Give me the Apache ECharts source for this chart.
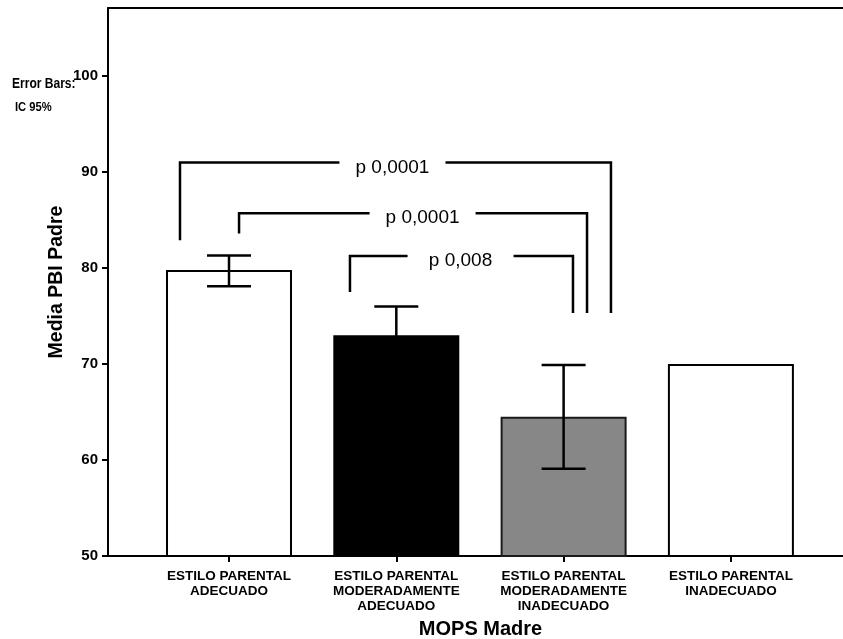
<!DOCTYPE html>
<html>
<head>
<meta charset="utf-8">
<script src="https://cdn.jsdelivr.net/npm/echarts@6/dist/echarts.min.js"></script>
<style>
html,body{margin:0;padding:0;background:#fff;}
#chart{width:843px;height:639px;}
</style>
</head>
<body>
<div id="chart"></div>
<script>
// ---- data ----
const categories = [
  'ESTILO PARENTAL\nADECUADO',
  'ESTILO PARENTAL\nMODERADAMENTE\nADECUADO',
  'ESTILO PARENTAL\nMODERADAMENTE\nINADECUADO',
  'ESTILO PARENTAL\nINADECUADO'
];
const means  = [79.8, 73.0, 64.5, 70.0];
const ciLow  = [78.1, 70.0, 59.1, null];
const ciHigh = [81.3, 76.0, 69.9, null];
const yTicks = [50, 60, 70, 80, 90, 100];

// significance brackets (x in category units, y in axis units)
const bracketLabels       = ['p 0,0001', 'p 0,0001', 'p 0,008'];
const bracketLeftX        = [-0.293, 0.06, 0.723];
const bracketRightX       = [2.283, 2.14, 2.056];
const bracketTopY         = [91.0, 85.7, 81.25];
const bracketLeftBottomY  = [82.9, 83.6, 77.5];
const bracketRightBottomY = [75.3, 75.3, 75.3];
const bracketLabelX       = [0.977, 1.157, 1.384];

// ---- styles ----
const barFills   = ['#ffffff', '#000000', '#878787', '#ffffff'];
const barBorders = ['#000000', '#000000', '#1a1a1a', '#000000'];
const FONT = '"Liberation Sans", Arial, sans-serif';

const chart = echarts.init(document.getElementById('chart'), null, {renderer: 'canvas'});

const barData = means.map((v, i) => ({
  value: [i, v],
  itemStyle: {color: barFills[i], borderColor: barBorders[i], borderWidth: 2}
}));
const errData = [];
means.forEach((v, i) => { if (ciLow[i] != null) errData.push([i, ciLow[i], ciHigh[i]]); });

const option = {
  animation: false,
  backgroundColor: '#fff',
  grid: {left: 108, right: 0, top: 8, bottom: 83, show: false, containLabel: false, outerBoundsMode: 'none'},
  xAxis: [{
    type: 'value',
    min: -0.7233, max: 3.670,
    splitLine: {show: false},
    axisLine: {show: true, onZero: false, lineStyle: {color: '#000', width: 2}},
    axisTick: {show: true, customValues: [0, 1, 2, 3], length: 6, lineStyle: {color: '#000', width: 2}},
    axisLabel: {
      customValues: [0, 1, 2, 3],
      formatter: v => categories[Math.round(v)] || '',
      color: '#000', fontFamily: FONT, fontWeight: 'bold', fontSize: 13.5, lineHeight: 15, margin: 13
    },
    name: 'MOPS Madre', nameLocation: 'middle', nameGap: 63, nameMoveOverlap: false,
    nameTextStyle: {color: '#000', fontFamily: FONT, fontWeight: 'bold', fontSize: 20, padding: [0, 0, 0, 10]}
  }, {
    type: 'value', position: 'top',
    min: -0.7233, max: 3.670,
    splitLine: {show: false},
    axisLine: {show: true, onZero: false, lineStyle: {color: '#000', width: 2}},
    axisTick: {show: false}, axisLabel: {show: false}
  }],
  yAxis: {
    type: 'value',
    min: 50, max: 107.08,
    splitLine: {show: false},
    axisLine: {show: true, onZero: false, lineStyle: {color: '#000', width: 2}},
    axisTick: {show: true, customValues: yTicks, length: 6, lineStyle: {color: '#000', width: 2}},
    axisLabel: {customValues: yTicks, color: '#000', fontFamily: FONT, fontWeight: 'bold', fontSize: 15, margin: 10},
    name: 'Media PBI Padre', nameLocation: 'middle', nameGap: 41, nameMoveOverlap: false,
    nameTextStyle: {color: '#000', fontFamily: FONT, fontWeight: 'bold', fontSize: 19.5}
  },
  graphic: [
    {type: 'text', x: 12, y: 77, scaleX: 0.86, style: {text: 'Error Bars:', font: 'bold 14px ' + FONT, fill: '#000'}},
    {type: 'text', x: 15, y: 101, scaleX: 0.86, style: {text: 'IC 95%', font: 'bold 13px ' + FONT, fill: '#000'}}
  ],
  series: [
    {
      type: 'bar', data: barData, barWidth: 126, z: 2
    },
    {
      type: 'custom', z: 5, data: errData,
      renderItem: function (params, api) {
        const x = api.value(0);
        const lo = api.coord([x, api.value(1)]);
        const hi = api.coord([x, api.value(2)]);
        const hw = 22;
        const st = {stroke: '#000', lineWidth: 2.5};
        return {type: 'group', children: [
          {type: 'line', shape: {x1: lo[0], y1: lo[1], x2: hi[0], y2: hi[1]}, style: st},
          {type: 'line', shape: {x1: hi[0] - hw, y1: hi[1], x2: hi[0] + hw, y2: hi[1]}, style: st},
          {type: 'line', shape: {x1: lo[0] - hw, y1: lo[1], x2: lo[0] + hw, y2: lo[1]}, style: st}
        ]};
      }
    },
    {
      type: 'custom', z: 6, data: bracketLabels.map((_, i) => [bracketLabelX[i], bracketTopY[i]]),
      renderItem: function (params, api) {
        const i = params.dataIndex;
        const lt = api.coord([bracketLeftX[i], bracketTopY[i]]);
        const lb = api.coord([bracketLeftX[i], bracketLeftBottomY[i]]);
        const rt = api.coord([bracketRightX[i], bracketTopY[i]]);
        const rb = api.coord([bracketRightX[i], bracketRightBottomY[i]]);
        const c = api.coord([bracketLabelX[i], bracketTopY[i]]);
        const gap = 53;
        const st = {stroke: '#000', lineWidth: 2.5, fill: null};
        return {type: 'group', children: [
          {type: 'polyline', shape: {points: [lb, lt, [c[0] - gap, lt[1]]]}, style: st},
          {type: 'polyline', shape: {points: [[c[0] + gap, rt[1]], rt, rb]}, style: st},
          {type: 'text', x: c[0], y: c[1] + 5, style: {text: bracketLabels[i], font: '19px ' + FONT, fill: '#000', align: 'center', verticalAlign: 'middle'}}
        ]};
      }
    }
  ]
};
chart.setOption(option);
</script>
</body>
</html>
